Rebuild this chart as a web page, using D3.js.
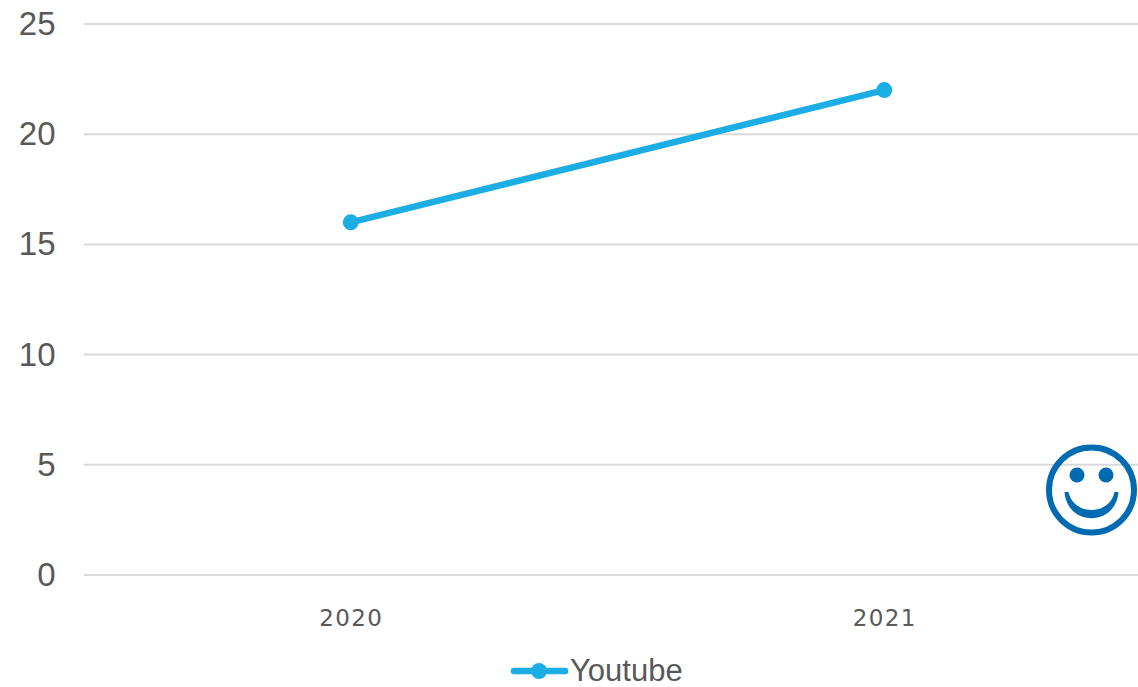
<!DOCTYPE html>
<html><head><meta charset="utf-8"><script src="https://cdn.jsdelivr.net/npm/d3@7"></script>
<style>html,body{margin:0;background:#fff}svg{display:block}text{font-family:"Liberation Sans",sans-serif}</style></head><body>
<svg id="c" width="1138" height="687"></svg>
<script>
const categories = ["2020","2021"];
const youtube = [16,22];
const yTicks = [0,5,10,15,20,25];
const seriesName = "Youtube";
const svg = d3.select("#c");
const y = d3.scaleLinear().domain([0,25]).range([575,24]);
const x = d3.scaleBand().domain(categories).range([84,1151]);
const cx = d => x(d)+x.bandwidth()/2;
const grid = svg.append("g");
grid.selectAll("line").data(yTicks).join("line").attr("x1",84).attr("x2",1138)
 .attr("y1",d=>y(d)).attr("y2",d=>y(d)).attr("stroke","#d9d9d9").attr("stroke-width",2);
svg.append("g").selectAll("text").data(yTicks).join("text").attr("x",55.5).attr("y",d=>y(d)+11)
 .attr("text-anchor","end").attr("font-size",33).attr("fill","#595959").text(d=>d);
svg.append("g").selectAll("text").data(categories).join("text").attr("x",d=>cx(d)+0.5).attr("y",626)
 .attr("text-anchor","middle").attr("font-size",23).attr("letter-spacing",1.4).attr("fill","#595959").style("font-family","DejaVu Sans").text(d=>d);
const color="#1cade4";
svg.append("path").datum(categories.map((c,i)=>[cx(c),y(youtube[i])])).attr("d",d3.line())
 .attr("fill","none").attr("stroke",color).attr("stroke-width",6.5).attr("stroke-linecap","round");
svg.append("g").selectAll("circle").data(categories).join("circle").attr("cx",cx).attr("cy",(c,i)=>y(youtube[i])).attr("r",8).attr("fill",color);
svg.append("line").attr("x1",514).attr("x2",565).attr("y1",671).attr("y2",671).attr("stroke",color).attr("stroke-width",6.5).attr("stroke-linecap","round");
svg.append("circle").attr("cx",539).attr("cy",671).attr("r",8).attr("fill",color);
svg.append("text").attr("x",570).attr("y",681).attr("font-size",31).attr("fill","#595959").text(seriesName);
const s=svg.append("g").attr("transform","translate(1091.5,490)");
s.append("circle").attr("r",42.5).attr("fill","none").attr("stroke","#006bb0").attr("stroke-width",6);
s.append("circle").attr("cx",-14.5).attr("cy",-15).attr("r",7.5).attr("fill","#006bb0");
s.append("circle").attr("cx",14.5).attr("cy",-15).attr("r",7.5).attr("fill","#006bb0");
s.append("path").attr("d","M-27,2 C-24,37 24,37 27,2 L23,2 C18,26 -18,26 -23,2 Z").attr("fill","#006bb0");
</script></body></html>
